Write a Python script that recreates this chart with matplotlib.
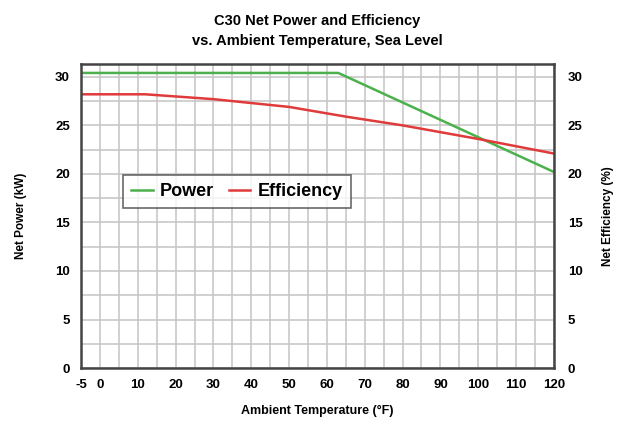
import numpy as np
import matplotlib.pyplot as plt

plt.rcParams['font.family'] = ['Liberation Sans', 'DejaVu Sans']
plt.rcParams['font.weight'] = 'bold'
plt.rcParams['axes.unicode_minus'] = False

# data
temp_power = [-5, 63, 120]
power = [30.4, 30.4, 20.2]

temp_eff = [-5, 12, 30, 50, 65, 80, 100, 120]
efficiency = [28.2, 28.2, 27.7, 26.9, 25.9, 25.0, 23.6, 22.1]

xticks = [-5, 0, 10, 20, 30, 40, 50, 60, 70, 80, 90, 100, 110, 120]
yticks = [0, 5, 10, 15, 20, 25, 30]

fig = plt.figure(figsize=(6.28, 4.28), dpi=100)
ax = fig.add_axes([0.129, 0.140, 0.753, 0.710])

ax.plot(temp_power, power, color='#4cb04c', lw=1.8, label='Power')
ax.plot(temp_eff, efficiency, color='#e03a3a', lw=1.8, label='Efficiency')

ax.set_xlim(-5, 120)
ax.set_ylim(0, 31.3)
ax.set_xticks(xticks)
ax.set_yticks(yticks)
ax.set_xticks(np.arange(0, 121, 5), minor=True)
ax.set_yticks(np.arange(0, 31, 2.5), minor=True)
ax.grid(which='both', color='#c4c4c4', lw=1.1)
ax.set_axisbelow(True)
ax.tick_params(which='both', length=0, labelsize=9.5, pad=8)

for s in ax.spines.values():
    s.set_color('#444444')
    s.set_linewidth(1.8)

ax2 = ax.twinx()
ax2.set_ylim(0, 31.3)
ax2.set_yticks(yticks)
ax2.tick_params(length=0, labelsize=9.5, pad=10)
for s in ax2.spines.values():
    s.set_visible(False)

ax.set_xlabel('Ambient Temperature (°F)', fontsize=9, fontweight='bold', labelpad=10)
ax.set_ylabel('Net Power (kW)', fontsize=8.5, fontweight='bold', labelpad=20)
ax2.set_ylabel('Net Efficiency (%)', fontsize=8.5, fontweight='bold', labelpad=14)

ax.set_title('C30 Net Power and Efficiency\nvs. Ambient Temperature, Sea Level',
             fontsize=10.5, fontweight='bold', pad=14, linespacing=1.5)

leg = ax.legend(loc='upper left', bbox_to_anchor=(0.07, 0.665), ncol=2,
                fontsize=13, frameon=True, fancybox=False, handlelength=1.2,
                columnspacing=0.8, handletextpad=0.4, borderpad=0.45)
leg.get_frame().set_edgecolor('#444444')
leg.get_frame().set_linewidth(1.2)

fig.savefig('out.png', dpi=100)
